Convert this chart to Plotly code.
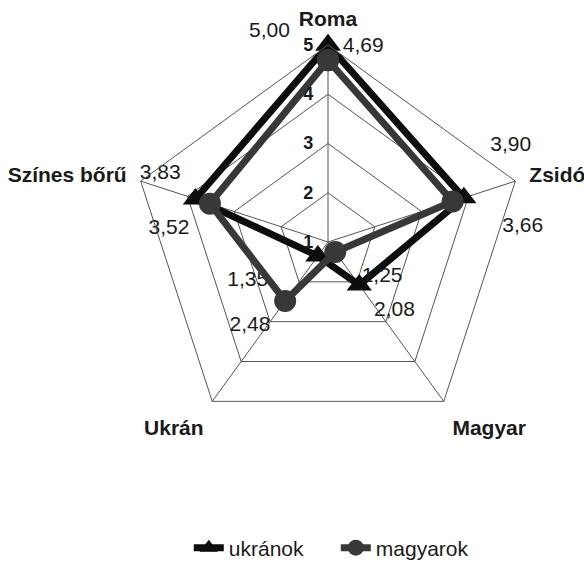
import plotly.graph_objects as go

categories = ["Roma", "Zsidó", "Magyar", "Ukrán", "Színes bőrű"]
ukranok = [5.00, 3.90, 2.08, 1.35, 3.83]
magyarok = [4.69, 3.66, 1.25, 2.48, 3.52]
radial_ticks = [1, 2, 3, 4, 5]

NB = "\u00a0"

def fmt(v):
    return f"{v:.2f}".replace(".", ",")

def closed(lst):
    return lst + lst[:1]

uk_text = [fmt(v) for v in ukranok]
uk_text[0] = uk_text[0] + NB * 4 + "<br>" + NB
uk_text[1] = NB * 2 + uk_text[1] + "<br>" + NB
uk_text[3] = uk_text[3] + NB * 6
ma_text = [fmt(v) for v in magyarok]
ma_text[0] = ma_text[0] + "<br>" + NB
ma_text[1] = NB * 6 + ma_text[1]
ma_text[2] = NB * 2 + ma_text[2]
ma_text[4] = ma_text[4] + NB

FONT = "Liberation Sans, Arial"

fig = go.Figure()
fig.add_trace(go.Scatterpolar(
    r=closed(ukranok), theta=closed(categories), name="ukránok",
    mode="lines+markers+text",
    text=uk_text + [""],
    textposition=["middle left", "top right", "bottom right", "bottom left", "top left", "top left"],
    textfont=dict(family=FONT, size=21, color="#1a1a1a"),
    line=dict(color="#0d0d0d", width=7),
    marker=dict(symbol="triangle-up", size=22, color="#0d0d0d"),
))
fig.add_trace(go.Scatterpolar(
    r=closed(magyarok), theta=closed(categories), name="magyarok",
    mode="lines+markers+text",
    text=ma_text + [""],
    textposition=["middle right", "bottom right", "bottom right", "bottom left", "bottom left", "top right"],
    textfont=dict(family=FONT, size=21, color="#1a1a1a"),
    line=dict(color="#383838", width=7),
    marker=dict(symbol="circle", size=22, color="#383838"),
))

fig.update_layout(
    width=584, height=571,
    paper_bgcolor="white", plot_bgcolor="white",
    margin=dict(l=0, r=0, t=0, b=0),
    font=dict(family=FONT, color="#1a1a1a"),
    polar=dict(
        domain=dict(x=[0.2243, 0.899], y=[0.2312, 0.9212]),
        bgcolor="rgba(0,0,0,0)",
        gridshape="linear",
        radialaxis=dict(
            range=[1, 5], tickvals=radial_ticks, ticktext=[str(t) for t in radial_ticks],
            angle=90, tickangle=90, side="counterclockwise",
            showline=False, gridcolor="#555555", gridwidth=1,
            ticks="outside", ticklen=8, tickcolor="rgba(0,0,0,0)",
            tickfont=dict(family=FONT, size=18, color="#1a1a1a", weight="bold"),
        ),
        angularaxis=dict(
            rotation=90, direction="clockwise",
            linecolor="#555555", linewidth=1, gridcolor="#555555", gridwidth=1,
            ticks="outside", ticklen=10, tickcolor="rgba(0,0,0,0)",
            tickfont=dict(family=FONT, size=21, color="#1a1a1a", weight="bold"),
        ),
    ),
    legend=dict(
        orientation="h", x=0.575, xanchor="center", y=0.0403, yanchor="middle",
        font=dict(family=FONT, size=21, color="#1a1a1a"),
        bgcolor="rgba(0,0,0,0)",
        entrywidth=102, entrywidthmode="pixels",
    ),
)

fig.write_html("out.html", config={"displayModeBar": False},
               post_script="document.body.style.margin='0';")
